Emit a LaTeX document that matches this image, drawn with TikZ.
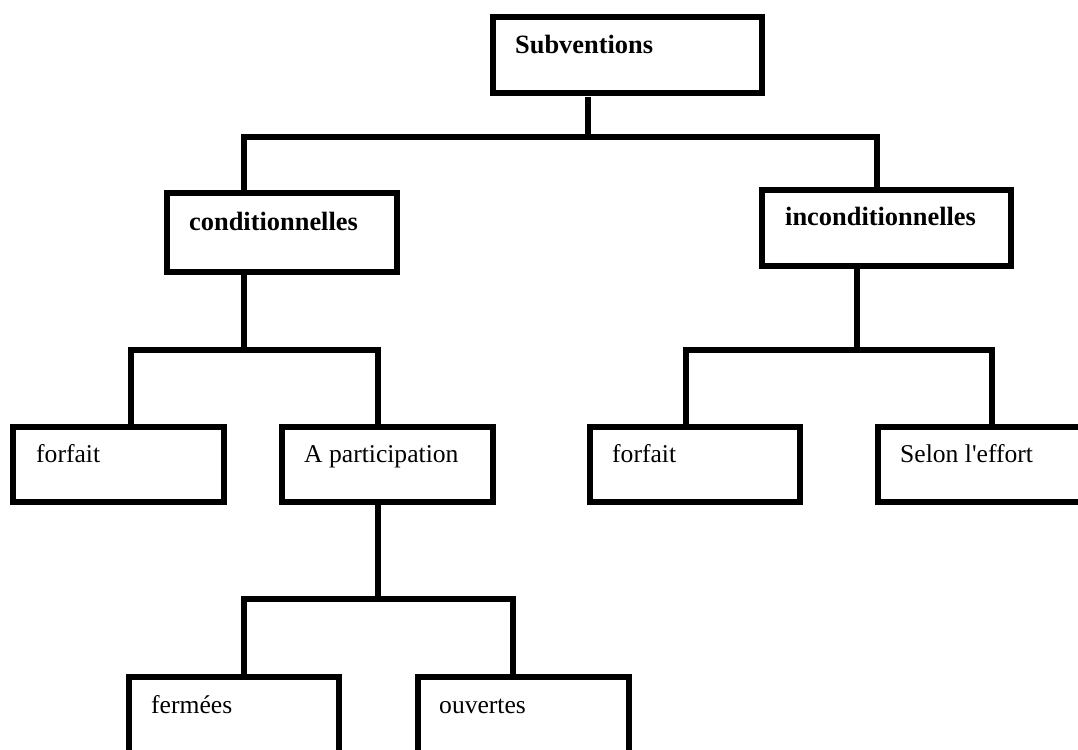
\documentclass[tikz,border=0pt]{standalone}
\usepackage{fontspec}
\setmainfont{Liberation Serif}
\begin{document}
\begin{tikzpicture}[x=1pt,y=1pt,
  box/.style={draw, rectangle, line width=6pt, outer sep=0pt, inner sep=0pt, anchor=north west},
  txt/.style={anchor=base west, inner sep=0pt, font=\fontsize{25.6}{30}\selectfont},
  btxt/.style={anchor=base west, inner sep=0pt, font=\fontsize{26.4}{30}\selectfont\bfseries},
  conn/.style={line width=6pt, line join=miter}]
\useasboundingbox[fill=white] (0,0) rectangle (1078,749);
\clip (0,0) rectangle (1078,749);
% boxes
\node[box, minimum width=269pt, minimum height=76pt] (sub) at (493,732) {};
\node[box, minimum width=230pt, minimum height=79pt] (cond) at (167,556) {};
\node[box, minimum width=249pt, minimum height=76pt] (incond) at (762,559) {};
\node[box, minimum width=211pt, minimum height=75pt] (forf1) at (13,322) {};
\node[box, minimum width=211pt, minimum height=75pt] (apart) at (282,322) {};
\node[box, minimum width=210pt, minimum height=75pt] (forf2) at (590,322) {};
\node[box, minimum width=215pt, minimum height=75pt] (selon) at (878,322) {};
\node[box, minimum width=210pt, minimum height=90pt] (ferm) at (129,72) {};
\node[box, minimum width=211pt, minimum height=90pt] (ouv) at (418,72) {};
% texts
\node[btxt] (tsub) at ([xshift=22pt,yshift=-37pt]sub.north west) {Subventions};
\node[btxt] (tcond) at ([xshift=22pt,yshift=-38pt]cond.north west) {conditionnelles};
\node[btxt] (tincond) at ([xshift=23pt,yshift=-36pt]incond.north west) {inconditionnelles};
\node[txt] (tforf1) at ([xshift=23pt,yshift=-36pt]forf1.north west) {forfait};
\node[txt] (tapart) at ([xshift=22pt,yshift=-36pt]apart.north west) {A participation};
\node[txt] (tforf2) at ([xshift=22pt,yshift=-36pt]forf2.north west) {forfait};
\node[txt] (tselon) at ([xshift=22pt,yshift=-36pt]selon.north west) {Selon l\textquotesingle effort};
\node[txt] (tferm) at ([xshift=22pt,yshift=-37pt]ferm.north west) {fermées};
\node[txt] (touv) at ([xshift=21pt,yshift=-37pt]ouv.north west) {ouvertes};
% bus coordinates
\coordinate (b1) at (588,612);
\coordinate (b1l) at (244,612);
\coordinate (b1r) at (877,612);
\coordinate (b2) at (244,399);
\coordinate (b2l) at (131,399);
\coordinate (b2r) at (378,399);
\coordinate (b3) at (857,399);
\coordinate (b3l) at (686,399);
\coordinate (b3r) at (992,399);
\coordinate (b4) at (378,150);
\coordinate (b4l) at (244,150);
\coordinate (b4r) at (513,150);
\path ([yshift=-4pt]sub.south) coordinate (s0);
% connectors
\draw[conn] (s0 -| b1) -- (b1);
\draw[conn] (cond.north -| b1l) -- (b1l) -- (b1r) -- (incond.north -| b1r);
\draw[conn] (cond.south -| b2) -- (b2);
\draw[conn] (forf1.north -| b2l) -- (b2l) -- (b2r) -- (apart.north -| b2r);
\draw[conn] (incond.south -| b3) -- (b3);
\draw[conn] (forf2.north -| b3l) -- (b3l) -- (b3r) -- (selon.north -| b3r);
\draw[conn] (apart.south -| b4) -- (b4);
\draw[conn] (ferm.north -| b4l) -- (b4l) -- (b4r) -- (ouv.north -| b4r);
\end{tikzpicture}
\end{document}
